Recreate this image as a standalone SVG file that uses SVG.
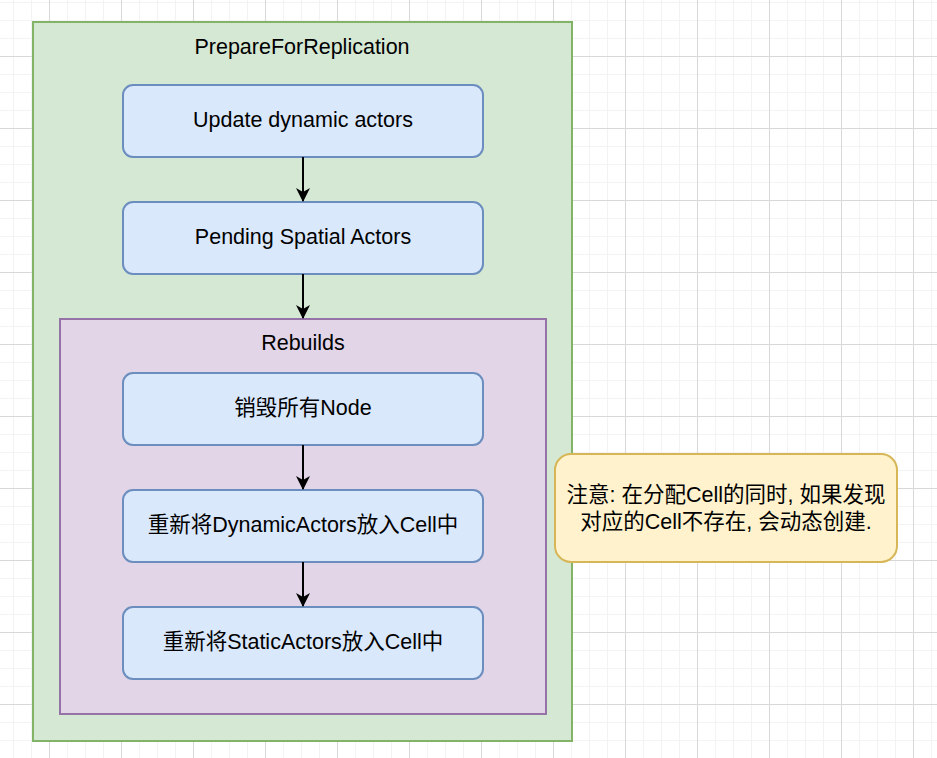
<svg xmlns="http://www.w3.org/2000/svg" width="937" height="758" viewBox="0 0 937 758">
<defs>
<pattern id="minor" x="13" y="2" width="18" height="18" patternUnits="userSpaceOnUse">
<path d="M0.5 0V18M0 0.5H18" fill="none" stroke="#f3f3f3" stroke-width="1"/>
</pattern>
<pattern id="major" x="49" y="56" width="72" height="72" patternUnits="userSpaceOnUse">
<path d="M0.5 0V72M0 0.5H72" fill="none" stroke="#d8d8d8" stroke-width="1"/>
</pattern>
<marker id="arr" viewBox="0 0 14 14" refX="13" refY="7" markerWidth="14" markerHeight="14" markerUnits="userSpaceOnUse" orient="auto">
<path d="M0 0L14 7L0 14L4 7Z" fill="#000"/>
</marker>
<style>
text{font-family:"Liberation Sans","Noto Sans CJK SC",sans-serif;font-size:21.5px;fill:#000;text-anchor:middle}
.step{fill:#dae8fc;stroke:#6c8ebf;stroke-width:2}
.conn{stroke:#000;stroke-width:2;fill:none}
</style>
</defs>
<rect width="937" height="758" fill="#fff"/>
<rect width="937" height="758" fill="url(#minor)"/>
<rect width="937" height="758" fill="url(#major)"/>
<g id="prepare">
<rect x="33" y="22" width="539" height="719" fill="#d5e8d4" stroke="#82b366" stroke-width="2"/>
<text x="302" y="54">PrepareForReplication</text>
</g>
<g id="update">
<rect class="step" x="123" y="85" width="360" height="72" rx="10"/>
<text x="303" y="127">Update dynamic actors</text>
</g>
<g id="pending">
<rect class="step" x="123" y="202" width="360" height="72" rx="10"/>
<text x="303" y="244">Pending Spatial Actors</text>
</g>
<g id="rebuilds">
<rect x="60" y="319" width="486" height="395" fill="#e1d5e7" stroke="#9673a6" stroke-width="2"/>
<text x="303" y="350">Rebuilds</text>
</g>
<g id="destroy">
<rect class="step" x="123" y="373" width="360" height="72" rx="10"/>
<text x="303" y="415">销毁所有Node</text>
</g>
<g id="dynamic">
<rect class="step" x="123" y="490" width="360" height="72" rx="10"/>
<text x="303" y="532">重新将DynamicActors放入Cell中</text>
</g>
<g id="static">
<rect class="step" x="123" y="607" width="360" height="72" rx="10"/>
<text x="303" y="649">重新将StaticActors放入Cell中</text>
</g>
<g id="note">
<rect x="555" y="454" width="342" height="108" rx="16" fill="#fff2cc" stroke="#d6b656" stroke-width="2"/>
<text x="726" y="502">注意: 在分配Cell的同时, 如果发现</text>
<text x="726" y="529">对应的Cell不存在, 会动态创建.</text>
</g>
<g id="connectors">
<path class="conn" d="M303 157V201" marker-end="url(#arr)"/>
<path class="conn" d="M303 274V318" marker-end="url(#arr)"/>
<path class="conn" d="M303 445V489" marker-end="url(#arr)"/>
<path class="conn" d="M303 562V606" marker-end="url(#arr)"/>
</g>
</svg>
